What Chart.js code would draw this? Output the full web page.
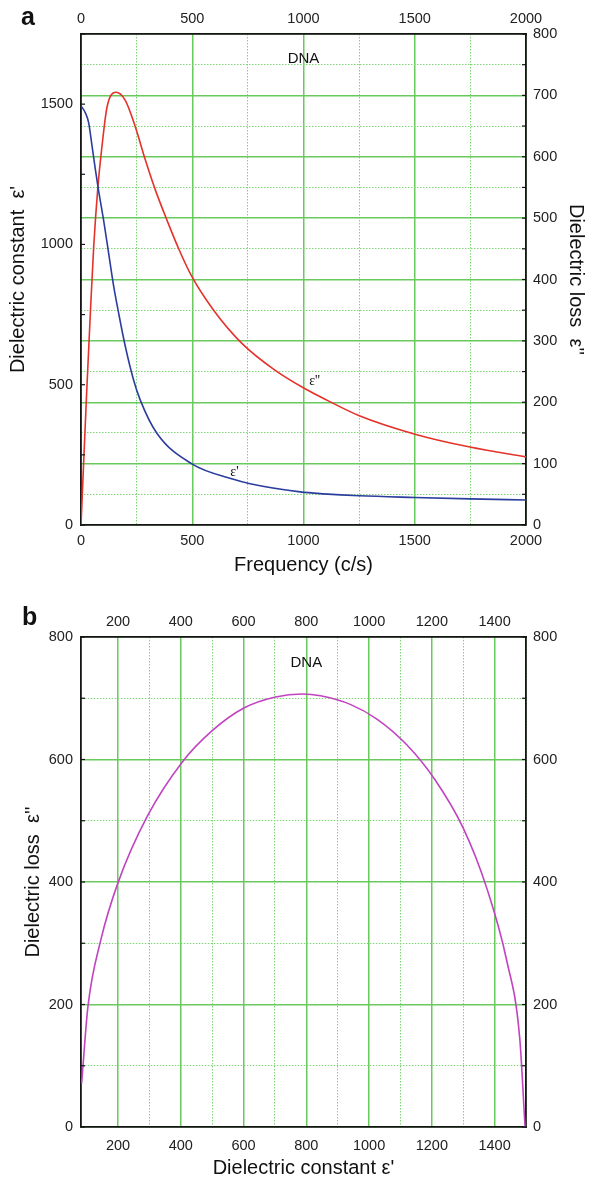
<!DOCTYPE html>
<html><head><meta charset="utf-8">
<script src="https://cdn.jsdelivr.net/npm/chart.js@4/dist/chart.umd.min.js"></script>
<style>
html,body{margin:0;padding:0;background:#fff;}
#wa{position:absolute;left:0;top:0;width:594px;height:590px;}
#wb{position:absolute;left:0;top:590px;width:594px;height:592px;}
.lbl{position:absolute;font:bold 25px "Liberation Sans",Arial,sans-serif;color:#111;}
</style></head><body>
<div id="wa"><canvas id="ca"></canvas></div>
<div id="wb"><canvas id="cb"></canvas></div>
<div class="lbl" style="left:21px;top:2px;">a</div>
<div class="lbl" style="left:22px;top:602px;">b</div>
<script>
// ---- Panel a: frequency dependence ----
const freqA1 = [0, 19, 34, 49, 64, 79, 101, 124, 146, 169, 199, 236, 266, 341, 498, 685, 760, 985, 1090, 1251, 1501, 1748, 2000];
const epsPrime = [1494, 1470, 1435, 1355, 1270, 1192, 1089, 970, 855, 756, 637, 518, 446, 327, 218, 163, 147, 118, 111, 104, 98, 93, 89];
const freqA2 = [0, 24, 42, 57, 76, 94, 117, 157, 199, 244, 289, 334, 386, 438, 498, 596, 723, 873, 1007, 1097, 1251, 1501, 1748, 2000];
const epsLoss = [0, 204, 345, 453, 551, 616, 681, 705, 692, 649, 595, 546, 497, 451, 405, 350, 296, 252, 222, 205, 178, 148, 127, 111];
// ---- Panel b: Cole-Cole plot ----
const colePrime = [84, 104, 145, 200, 293, 405, 500, 601, 702, 787, 845, 940, 1025, 1120, 1210, 1300, 1375, 1438, 1480, 1497];
const coleLoss = [71, 196, 305, 399, 507, 596, 647, 684, 702, 707, 704, 690, 666, 624, 567, 488, 390, 273, 145, 0];
// ---- axis settings ----
const freqLabelTicks = [0, 500, 1000, 1500, 2000];
const epsLeftLabelTicks = [0, 500, 1000, 1500];
const lossRightLabelTicks = [0, 100, 200, 300, 400, 500, 600, 700, 800];
const bXLabelTicks = [200, 400, 600, 800, 1000, 1200, 1400];
const bYLabelTicks = [0, 200, 400, 600, 800];

const FONT = '"Liberation Sans", Arial, sans-serif';
const TICKFONT = {family: FONT, size: 14.5};
const TITLEFONT = {family: FONT, size: 20};
const SOLID = '#6ac95c';
const DOTTED = '#7ed574';
const AXIS = '#151515';

function pts(xs, ys){ return xs.map((x,i)=>({x:x, y:ys[i]})); }
function labelCb(list){ return v => list.includes(v) ? String(v) : ''; }

const inwardTicks = {
  id:'inwardTicks',
  afterDraw(chart, args, opts){
    const ctx = chart.ctx, a = chart.chartArea;
    ctx.save(); ctx.strokeStyle = AXIS; ctx.lineWidth = 1.2;
    (opts.scales||[]).forEach(id => {
      const s = chart.scales[id]; if(!s) return;
      s.ticks.forEach(t => {
        const p = s.getPixelForValue(t.value);
        ctx.beginPath();
        if (s.position === 'left'){ ctx.moveTo(a.left, p); ctx.lineTo(a.left+4, p); }
        else if (s.position === 'right'){ ctx.moveTo(a.right, p); ctx.lineTo(a.right-4, p); }
        else if (s.position === 'top'){ ctx.moveTo(p, a.top); ctx.lineTo(p, a.top+4); }
        else { ctx.moveTo(p, a.bottom); ctx.lineTo(p, a.bottom-4); }
        ctx.stroke();
      });
    });
    ctx.restore();
  }
};
const textLabels = {
  id:'textLabels',
  afterDatasetsDraw(chart, args, opts){
    const ctx = chart.ctx;
    (opts.items||[]).forEach(it => {
      const x = chart.scales[it.xAxis].getPixelForValue(it.x);
      const y = chart.scales[it.yAxis].getPixelForValue(it.y);
      ctx.save(); ctx.font = it.font; ctx.fillStyle = '#111';
      ctx.textAlign = 'center'; ctx.textBaseline = 'middle';
      ctx.fillText(it.text, x, y); ctx.restore();
    });
  }
};

function gridStyle(major){
  return {
    color: c => (c.tick && c.tick.value % major === 0) ? SOLID : DOTTED,
    lineWidth: c => (c.tick && c.tick.value % major === 0) ? 1.5 : 1,
    drawTicks: false
  };
}
function borderStyle(major){
  return {display:true, color: AXIS, width: 1.8,
    dash: c => (c.tick && c.tick.value % major !== 0) ? [1.5, 1.5] : []};
}
function fixW(w){ return s => { s.width = w; }; }
function fixH(h){ return s => { s.height = h; }; }

// ---------- Chart a ----------
new Chart(document.getElementById('ca'), {
  type: 'scatter',
  data: { datasets: [
    { label:"ε'", data: pts(freqA1, epsPrime), xAxisID:'x', yAxisID:'yL', showLine:true,
      borderColor:'#2b3d9e', borderWidth:1.6, pointRadius:0, cubicInterpolationMode:'monotone' },
    { label:"ε''", data: pts(freqA2, epsLoss), xAxisID:'x', yAxisID:'yR', showLine:true,
      borderColor:'#e4322b', borderWidth:1.6, pointRadius:0, cubicInterpolationMode:'monotone' }
  ]},
  options: {
    responsive:true, maintainAspectRatio:false, animation:false,
    layout:{padding:0},
    plugins:{ legend:{display:false}, tooltip:{enabled:false},
      inwardTicks:{scales:['yL','yR']},
      textLabels:{items:[
        {text:'DNA', x:1000, y:760, xAxis:'x', yAxis:'yR', font:'15px '+FONT},
        {text:"ε'", x:690, y:186, xAxis:'x', yAxis:'yL', font:'14px "Liberation Serif", serif'},
        {text:"ε''", x:1050, y:234, xAxis:'x', yAxis:'yR', font:'14px "Liberation Serif", serif'}
      ]}
    },
    scales: {
      x: { type:'linear', position:'bottom', min:0, max:2000,
        ticks:{stepSize:250, autoSkip:false, maxRotation:0, padding:7, color:'#222', font:TICKFONT, callback:labelCb(freqLabelTicks)},
        grid: gridStyle(500), border: borderStyle(500),
        title:{display:true, text:'Frequency (c/s)', color:'#111', font:TITLEFONT, padding:{top:0,bottom:13}},
        afterFit: fixH(65) },
      xTop: { type:'linear', position:'top', min:0, max:2000,
        ticks:{stepSize:250, autoSkip:false, maxRotation:0, padding:6, color:'#222', font:TICKFONT, callback:labelCb(freqLabelTicks)},
        grid:{display:false, drawTicks:false}, border:{display:true, color:AXIS, width:1.8},
        afterFit: fixH(34) },
      yL: { type:'linear', position:'left', min:0, max:1750,
        ticks:{stepSize:250, autoSkip:false, padding:8, color:'#222', font:TICKFONT, callback:labelCb(epsLeftLabelTicks)},
        grid:{display:false, drawTicks:false}, border:{display:true, color:AXIS, width:1.8},
        title:{display:true, text:"Dielectric constant  ε'", color:'#111', font:TITLEFONT, padding:{top:6,bottom:0}},
        afterFit: fixW(81) },
      yR: { type:'linear', position:'right', min:0, max:800,
        ticks:{stepSize:50, autoSkip:false, padding:7, color:'#222', font:TICKFONT, callback:labelCb(lossRightLabelTicks)},
        grid: gridStyle(100), border: borderStyle(100),
        title:{display:true, text:"Dielectric loss  ε''", color:'#111', font:TITLEFONT, padding:{top:6,bottom:0}},
        afterFit: fixW(68) }
    }
  },
  plugins:[inwardTicks, textLabels]
});

// ---------- Chart b ----------
new Chart(document.getElementById('cb'), {
  type: 'scatter',
  data: { datasets: [
    { label:'Cole-Cole', data: pts(colePrime, coleLoss), xAxisID:'x', yAxisID:'yL', showLine:true,
      borderColor:'#c044c0', borderWidth:1.6, pointRadius:0, cubicInterpolationMode:'monotone' }
  ]},
  options: {
    responsive:true, maintainAspectRatio:false, animation:false,
    layout:{padding:0},
    plugins:{ legend:{display:false}, tooltip:{enabled:false},
      inwardTicks:{scales:['yL','yR']},
      textLabels:{items:[
        {text:'DNA', x:800, y:757, xAxis:'x', yAxis:'yL', font:'15px '+FONT}
      ]}
    },
    scales: {
      x: { type:'linear', position:'bottom', min:82, max:1500,
        ticks:{stepSize:100, autoSkip:false, maxRotation:0, padding:10, color:'#222', font:TICKFONT, callback:labelCb(bXLabelTicks)},
        grid: {
          color: c => (!c.tick || c.tick.value % 100 !== 0) ? 'rgba(0,0,0,0)' : (c.tick.value % 200 === 0 ? SOLID : DOTTED),
          lineWidth: c => (c.tick && c.tick.value % 200 === 0) ? 1.5 : 1, drawTicks:false },
        border: borderStyle(200),
        title:{display:true, text:"Dielectric constant ε'", color:'#111', font:TITLEFONT, padding:{top:0,bottom:2}},
        afterFit: fixH(55) },
      xTop: { type:'linear', position:'top', min:82, max:1500,
        ticks:{stepSize:100, autoSkip:false, maxRotation:0, padding:6, color:'#222', font:TICKFONT, callback:labelCb(bXLabelTicks)},
        grid:{display:false, drawTicks:false}, border:{display:true, color:AXIS, width:1.8},
        afterFit: fixH(47) },
      yL: { type:'linear', position:'left', min:0, max:800,
        ticks:{stepSize:100, autoSkip:false, padding:8, color:'#222', font:TICKFONT, callback:labelCb(bYLabelTicks)},
        grid: gridStyle(200), border: borderStyle(200),
        title:{display:true, text:"Dielectric loss  ε''", color:'#111', font:TITLEFONT, padding:{top:21,bottom:0}},
        afterFit: fixW(81) },
      yR: { type:'linear', position:'right', min:0, max:800,
        ticks:{stepSize:100, autoSkip:false, padding:7, color:'#222', font:TICKFONT, callback:labelCb(bYLabelTicks)},
        grid:{display:false, drawTicks:false}, border:{display:true, color:AXIS, width:1.8},
        afterFit: fixW(68) }
    }
  },
  plugins:[inwardTicks, textLabels]
});
</script>
</body></html>
